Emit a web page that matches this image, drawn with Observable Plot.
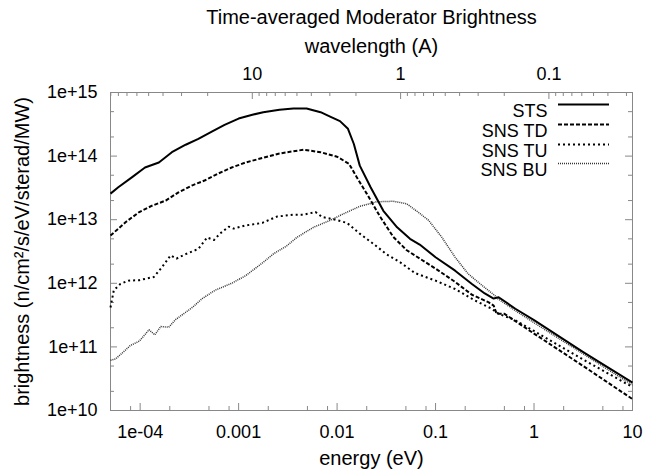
<!DOCTYPE html>
<html><head><meta charset="utf-8">
<script src="https://cdn.jsdelivr.net/npm/d3@7"></script>
<script src="https://cdn.jsdelivr.net/npm/@observablehq/plot@0.6"></script>
<style>
html,body{margin:0;padding:0;background:#fff;}
#chart svg{font-family:"Liberation Sans",Arial,Helvetica,sans-serif;background:#fff;}
</style></head><body><div id="chart"></div>
<script>
// ---- data ----
const seriesNames = ["STS", "SNS TD", "SNS TU", "SNS BU"];

const stsEnergy = [5.0e-5, 6.0e-5, 8.3e-5, 1.12e-4, 1.55e-4, 2.1e-4, 2.9e-4, 3.9e-4, 5.4e-4, 7.2e-4, 1.0e-3, 1.38e-3, 1.78e-3, 2.6e-3, 3.6e-3, 4.9e-3, 6.8e-3, 8.5e-3, 1.07e-2, 1.29e-2, 1.48e-2, 1.70e-2, 2.19e-2, 2.95e-2, 4.07e-2, 5.5e-2, 6.9e-2, 0.1, 0.158, 0.234, 0.316, 0.389, 0.437, 0.646, 1, 3.16, 10];
const stsBrightness = [2.57e13, 3.24e13, 4.68e13, 6.61e13, 7.94e13, 1.15e14, 1.51e14, 1.86e14, 2.45e14, 3.09e14, 3.89e14, 4.47e14, 4.90e14, 5.37e14, 5.62e14, 5.62e14, 4.90e14, 4.17e14, 3.55e14, 2.69e14, 1.55e14, 7.08e13, 3.24e13, 1.38e13, 7.59e12, 5.01e12, 4.07e12, 2.57e12, 1.58e12, 9.77e11, 6.92e11, 5.75e11, 6.03e11, 3.98e11, 2.63e11, 8.3e10, 2.75e10];

const tdEnergy = [5.0e-5, 7.1e-5, 9.8e-5, 1.32e-4, 1.82e-4, 2.45e-4, 3.39e-4, 4.57e-4, 6.3e-4, 8.5e-4, 1.18e-3, 1.74e-3, 2.6e-3, 4.57e-3, 6.8e-3, 1.0e-2, 1.32e-2, 1.58e-2, 2.0e-2, 2.75e-2, 3.72e-2, 5.1e-2, 6.9e-2, 0.1, 0.158, 0.234, 0.347, 0.389, 0.417, 0.501, 1, 3.16, 10];
const tdBrightness = [5.62e12, 9.12e12, 1.32e13, 1.66e13, 2.0e13, 2.69e13, 3.47e13, 4.17e13, 5.37e13, 6.61e13, 7.94e13, 9.33e13, 1.10e14, 1.26e14, 1.15e14, 9.77e13, 7.59e13, 4.68e13, 2.57e13, 1.10e13, 5.37e12, 3.31e12, 2.45e12, 1.70e12, 1.05e12, 6.61e11, 5.01e11, 4.47e11, 3.31e11, 3.31e11, 1.62e11, 5.0e10, 1.51e10];

const tuEnergy = [5.0e-5, 5.4e-5, 6.3e-5, 7.6e-5, 9.8e-5, 1.38e-4, 1.66e-4, 2.04e-4, 2.34e-4, 2.9e-4, 3.9e-4, 4.79e-4, 5.62e-4, 6.46e-4, 7.94e-4, 8.91e-4, 1.18e-3, 1.74e-3, 2.45e-3, 3.6e-3, 4.57e-3, 6.03e-3, 7.08e-3, 9.12e-3, 1.26e-2, 1.70e-2, 2.34e-2, 3.16e-2, 4.37e-2, 6.17e-2, 0.1, 0.158, 0.251, 0.372, 0.437, 0.646, 1, 3.16, 10];
const tuBrightness = [4.17e11, 7.76e11, 9.77e11, 1.10e12, 1.12e12, 1.26e12, 1.78e12, 2.75e12, 2.45e12, 2.88e12, 3.47e12, 5.25e12, 4.79e12, 6.03e12, 7.76e12, 7.24e12, 8.13e12, 8.91e12, 1.12e13, 1.20e13, 1.20e13, 1.32e13, 1.10e13, 1.02e13, 8.91e12, 6.03e12, 4.17e12, 2.88e12, 2.14e12, 1.45e12, 1.10e12, 8.13e11, 5.37e11, 3.98e11, 3.31e11, 2.63e11, 1.78e11, 6.31e10, 2.34e10];

const buEnergy = [5.0e-5, 5.62e-5, 6.76e-5, 7.94e-5, 9.8e-5, 1.23e-4, 1.41e-4, 1.62e-4, 1.95e-4, 2.29e-4, 3.39e-4, 4.27e-4, 5.75e-4, 8.5e-4, 1.18e-3, 1.78e-3, 2.24e-3, 3.09e-3, 3.89e-3, 5.75e-3, 8.5e-3, 1.15e-2, 1.70e-2, 2.51e-2, 3.72e-2, 5.1e-2, 6.9e-2, 8.5e-2, 0.115, 0.158, 0.214, 0.295, 0.398, 0.427, 0.646, 1, 3.16, 10];
const buBrightness = [6.17e10, 6.46e10, 8.32e10, 1.05e11, 1.23e11, 1.86e11, 1.55e11, 2.09e11, 2.04e11, 2.69e11, 4.17e11, 5.75e11, 7.76e11, 1.0e12, 1.32e12, 2.14e12, 2.88e12, 3.89e12, 5.25e12, 7.59e12, 9.77e12, 1.23e13, 1.62e13, 1.91e13, 1.95e13, 1.78e13, 1.26e13, 9.77e12, 5.37e12, 2.57e12, 1.41e12, 9.33e11, 6.46e11, 5.75e11, 3.72e11, 2.40e11, 7.76e10, 2.51e10];

// ---- axes / ticks ----
const energyDomain = [5e-5, 10];
const brightnessDomain = [1e10, 1e15];
const energyTicks = [1e-4, 1e-3, 1e-2, 1e-1, 1, 10];
const energyTickLabels = ["1e-04", "0.001", "0.01", "0.1", "1", "10"];
const brightnessTicks = [1e10, 1e11, 1e12, 1e13, 1e14, 1e15];
const brightnessTickLabels = ["1e+10", "1e+11", "1e+12", "1e+13", "1e+14", "1e+15"];
const wavelengthTicks = [10, 1, 0.1];
const wavelengthTickLabels = ["10", "1", "0.1"];
// the top (wavelength) axis as drawn in the original: log10(E) = A - B*log10(lambda)
const wlA = -1.355, wlB = 1.506;
const wavelengthToEnergy = l => Math.pow(10, wlA - wlB * Math.log10(l));

const titleText = "Time-averaged Moderator Brightness";
const topLabel = "wavelength (A)";
const xLabel = "energy (eV)";
const yLabel = "brightness (n/cm\u00B2/s/eV/sterad/MW)";

// ---- build ----
const W = 646, H = 475, mL = 110, mR = 14, mT = 92, mB = 65;
const fw = W - mL - mR, fh = H - mT - mB;
const inDom = (v, d) => v >= d[0] * 0.9999 && v <= d[1] * 1.0001;

const minorX = [];
for (let e = -5; e <= 1; e++) for (const m of [2, 5, 8]) { const v = m * 10 ** e; if (inDom(v, energyDomain)) minorX.push(v); }
const minorY = [];
for (let e = 10; e < 15; e++) for (const m of [2, 5]) minorY.push(m * 10 ** e);
const minorWl = [];
for (let e = -2; e <= 1; e++) for (let m = 2; m <= 9; m++) {
  const v = wavelengthToEnergy(m * 10 ** e);
  if (inDom(v, energyDomain)) minorWl.push(v);
}
const majorWl = wavelengthTicks.map(wavelengthToEnergy);

const mk = (name, E, B) => E.map((e, i) => ({series: name, energy: e, brightness: B[i]}));
const sts = mk(seriesNames[0], stsEnergy, stsBrightness);
const td = mk(seriesNames[1], tdEnergy, tdBrightness);
const tu = mk(seriesNames[2], tuEnergy, tuBrightness);
const bu = mk(seriesNames[3], buEnergy, buBrightness);

const styles = [
  {stroke: "#000", strokeWidth: 2, strokeLinecap: "butt"},
  {stroke: "#000", strokeWidth: 2, strokeDasharray: "4,2", strokeLinecap: "butt"},
  {stroke: "#000", strokeWidth: 2, strokeDasharray: "2,3", strokeLinecap: "butt"},
  {stroke: "#333", strokeWidth: 1.5, strokeDasharray: "1,1", strokeLinecap: "butt"}
];
const frameC = "#888";
const eLab = new Map(energyTicks.map((t, i) => [t, energyTickLabels[i]]));
const bLab = new Map(brightnessTicks.map((t, i) => [t, brightnessTickLabels[i]]));

const legendDy = [12, 32, 52, 71];

const marks = [
  Plot.frame({stroke: frameC}),
  // ticks (inward, all four sides)
  Plot.ruleX(energyTicks, {x: d => d, insetTop: fh - 7, stroke: frameC}),
  Plot.ruleX(minorX, {x: d => d, insetTop: fh - 4, stroke: frameC}),
  Plot.ruleX(majorWl, {x: d => d, insetBottom: fh - 7, stroke: frameC}),
  Plot.ruleX(minorWl, {x: d => d, insetBottom: fh - 4, stroke: frameC}),
  Plot.ruleY(brightnessTicks, {y: d => d, insetRight: fw - 7, stroke: frameC}),
  Plot.ruleY(minorY, {y: d => d, insetRight: fw - 4, stroke: frameC}),
  Plot.ruleY(brightnessTicks, {y: d => d, insetLeft: fw - 7, stroke: frameC}),
  Plot.ruleY(minorY, {y: d => d, insetLeft: fw - 4, stroke: frameC}),
  // tick labels
  Plot.text(energyTicks, {x: d => d, text: d => eLab.get(d), frameAnchor: "bottom", dy: 27, fontSize: 18, fill: "#000"}),
  Plot.text(brightnessTicks, {y: d => d, text: d => bLab.get(d), frameAnchor: "left", dx: -13, textAnchor: "end", fontSize: 18, fill: "#000"}),
  Plot.text(wavelengthTicks, {x: wavelengthToEnergy, text: (d, i) => wavelengthTickLabels[i], frameAnchor: "top", dy: -25, fontSize: 18, fill: "#000"}),
  // axis labels and title
  Plot.text([titleText], {frameAnchor: "top", dy: -83, fontSize: 20, fill: "#000"}),
  Plot.text([topLabel], {frameAnchor: "top", dy: -54, fontSize: 20, fill: "#000"}),
  Plot.text([xLabel], {frameAnchor: "bottom", dy: 54, fontSize: 20, fill: "#000"}),
  Plot.text([yLabel], {frameAnchor: "left", dx: -88, rotate: -90, textAnchor: "middle", fontSize: 20, fill: "#000"}),
  // series
  Plot.line(bu, {x: "energy", y: "brightness", ...styles[3]}),
  Plot.line(tu, {x: "energy", y: "brightness", ...styles[2]}),
  Plot.line(td, {x: "energy", y: "brightness", ...styles[1]}),
  Plot.line(sts, {x: "energy", y: "brightness", ...styles[0]}),
];
// legend
seriesNames.forEach((name, i) => {
  marks.push(Plot.text([name], {frameAnchor: "top-right", dx: -85, dy: legendDy[i], textAnchor: "end", fontSize: 18, fill: "#000"}));
  marks.push(Plot.ruleY([brightnessDomain[1]], {dy: legendDy[i], insetLeft: 448, insetRight: 23, ...styles[i]}));
});

const chart = Plot.plot({
  width: W, height: H,
  marginLeft: mL, marginRight: mR, marginTop: mT, marginBottom: mB,
  x: {type: "log", domain: energyDomain, axis: null},
  y: {type: "log", domain: brightnessDomain, axis: null},
  style: {background: "#fff", fontFamily: "'Liberation Sans', Arial, Helvetica, sans-serif"},
  marks
});
document.getElementById("chart").appendChild(chart);
</script></body></html>
